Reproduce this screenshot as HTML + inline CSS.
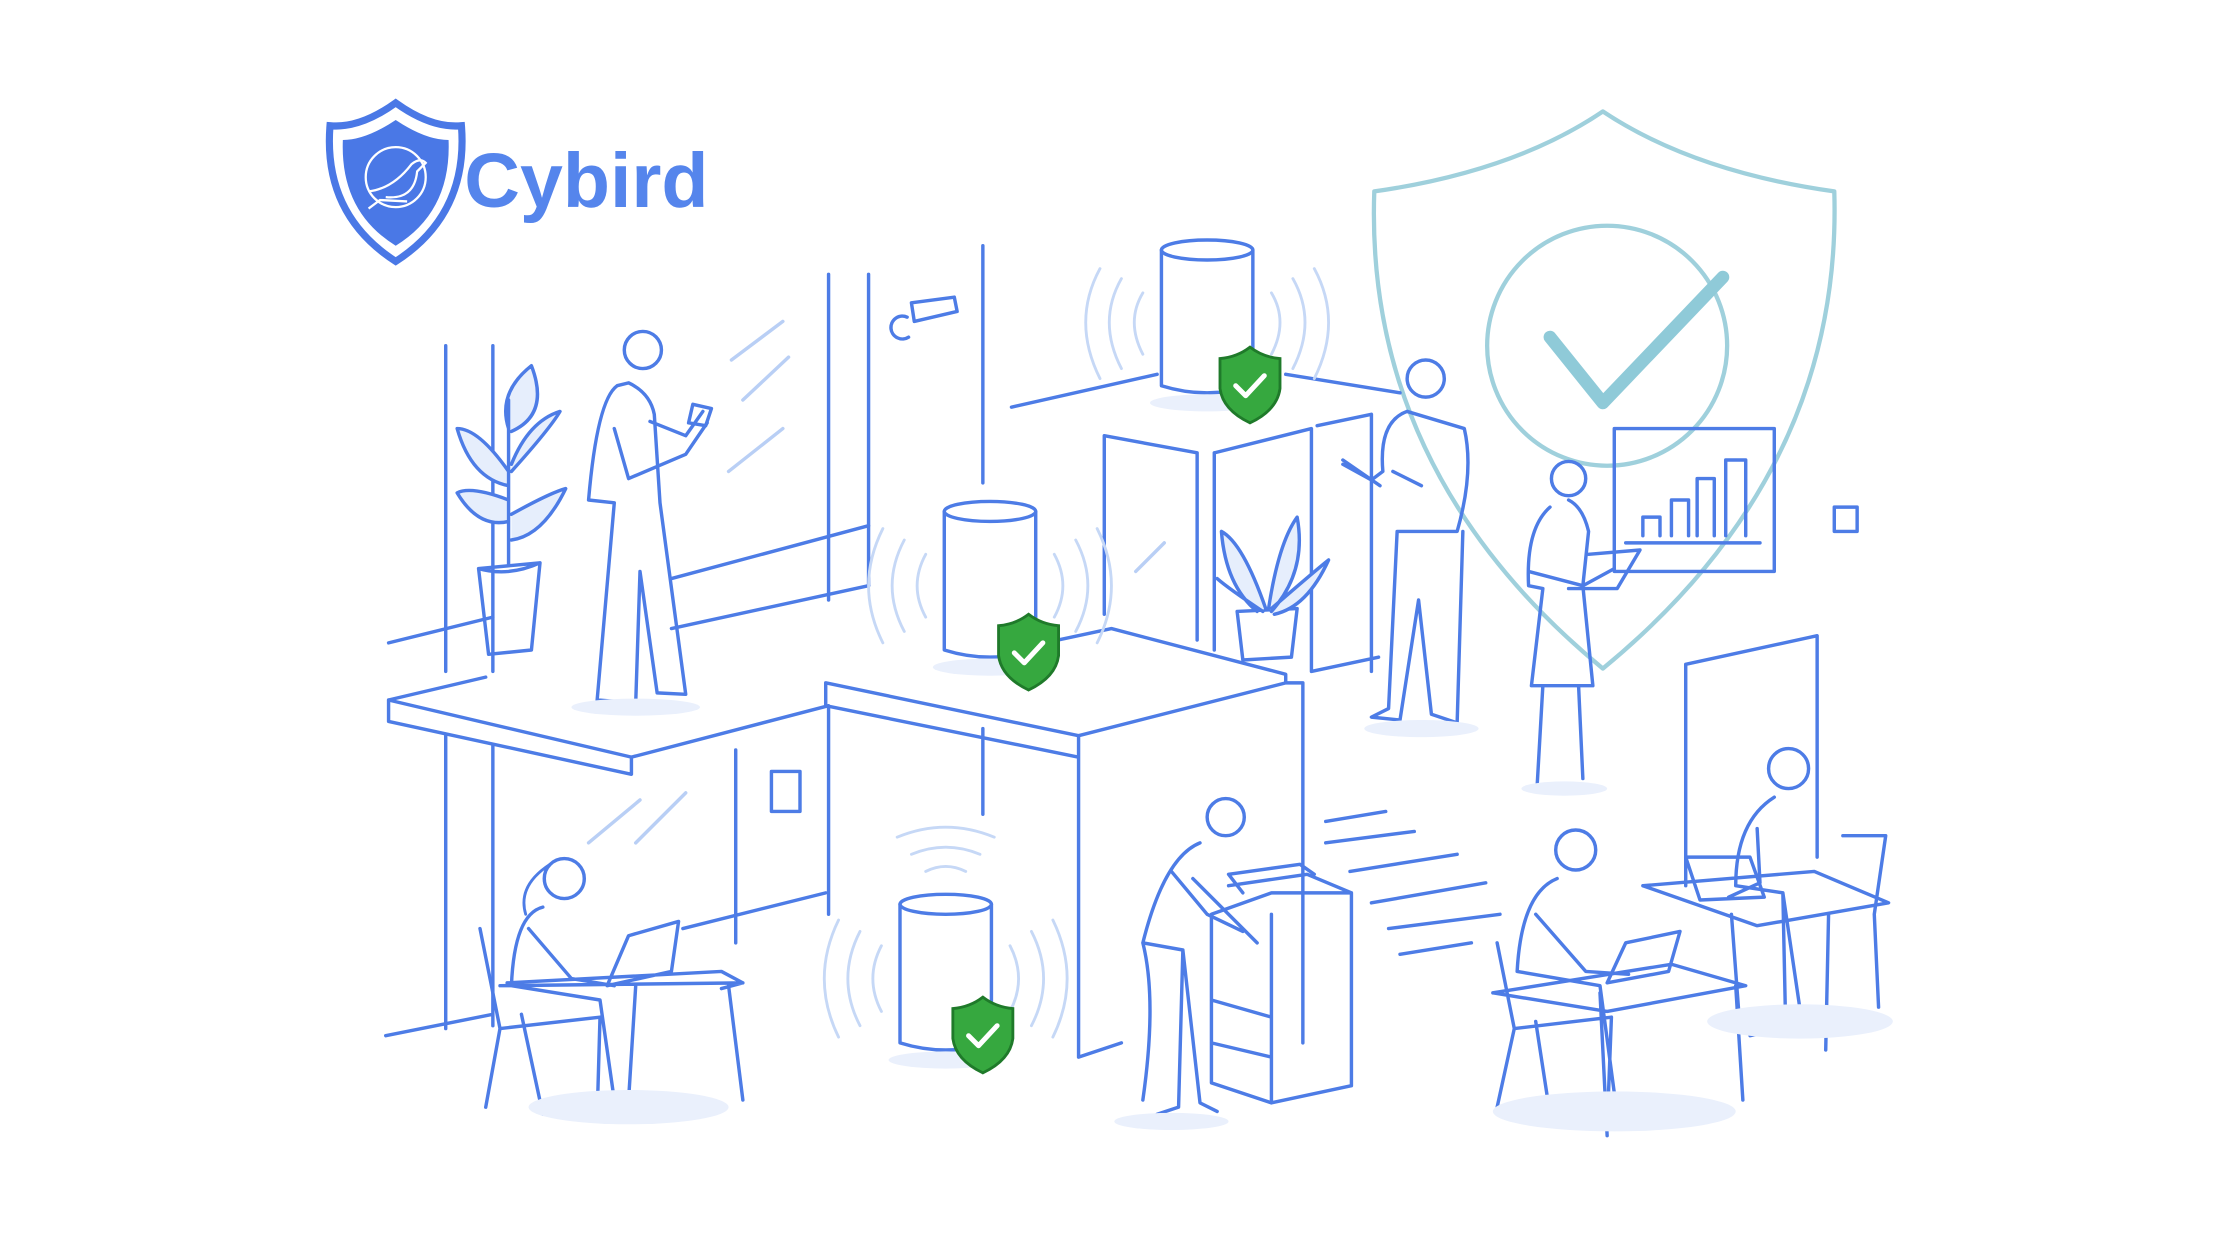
<!DOCTYPE html>
<html><head><meta charset="utf-8"><style>
html,body{margin:0;padding:0;background:#fff;width:2240px;height:1260px;overflow:hidden}
svg{display:block}
</style></head><body>
<svg width="2240" height="1260" viewBox="0 0 1568 882" xmlns="http://www.w3.org/2000/svg">
<g fill="none" stroke="#4d7ce6" stroke-width="2.4" stroke-linecap="round" stroke-linejoin="round">
<path d="M1122 78 Q1060 120 962 134 Q955 330 1122 468 Q1290 330 1284 134 Q1185 120 1122 78Z" stroke="#9fd0dc" stroke-width="3"/>
<circle cx="1125" cy="242" r="84" stroke="#9fd0dc" stroke-width="3"/>
<path d="M1085 236 L1122 282 L1206 194" stroke="#8fcad8" stroke-width="9"/>
<path d="M312 242 V470 M345 242 V470 M580 192 V420 M608 192 V410 M688 172 V338"/>
<path d="M272 450 L345 432 M470 405 L608 368 M470 440 L608 410"/>
<path d="M272 490 L272 505 L442 542 L442 530 L272 490 L340 474 M442 530 L580 494 M272 505 L272 490"/>
<path d="M578 478 L755 515 L900 478 L900 472 L778 440 L722 452 M578 478 L578 494 L755 530 L755 740 M755 515 L755 530 M900 478 L912 478 L912 730 M755 740 L785 730"/>
<path d="M312 515 V720 M345 522 V718 M270 725 L345 710 M515 525 V660 M580 495 V640 M688 510 V570 M478 650 L578 625"/>
<path d="M708 285 L810 262 M900 262 L980 275"/>
<path d="M773 305 L838 317 V448 M773 305 V430 M850 317 L918 300 V470 M850 317 V455 M922 298 L960 290 V470 M918 470 L965 460"/>
<path d="M1180 465 L1272 445 V600 M1180 465 V620"/>
<path d="M928 575 L970 568 M928 590 L990 582 M945 610 L1020 598 M960 632 L1040 618 M972 650 L1050 640 M980 668 L1030 660"/>
<path d="M540 540 L560 540 L560 568 L540 568Z M1284 355 L1300 355 L1300 372 L1284 372Z"/>
<path d="M638 212 L668 208 L670 218 L640 225Z M635 222 A8 8 0 1 0 636 236"/>
<path d="M512 252 L548 225 M520 280 L552 250 M510 330 L548 300 M412 590 L448 560 M445 590 L480 555 M795 400 L815 380" stroke="#b9cff5"/>
<path d="M335 398 L378 394 L372 455 L342 458Z M335 398 Q356 404 378 394"/>
<path d="M356 396 V280 M356 330 Q335 300 320 300 Q330 335 356 340 M356 350 Q330 340 320 345 Q335 370 356 365 M358 330 Q385 300 392 288 Q370 295 358 325 M358 360 Q385 345 396 342 Q380 375 358 378 M356 300 Q348 275 372 256 Q385 290 358 302" fill="#e6eefc"/>
<path d="M866 428 L908 426 L904 460 L870 462Z"/>
<path d="M886 426 Q870 380 855 372 Q858 410 880 428 M888 426 Q895 380 908 362 Q915 400 890 428 M890 426 Q920 400 930 392 Q915 425 892 430 M884 428 Q860 412 852 405" fill="#e6eefc"/>
<circle cx="450" cy="245" r="13"/>
<path d="M432 270 Q418 280 412 350 L430 352 L418 490 L445 492 L448 400 L460 485 L480 486 L462 352 L458 290 Q455 275 440 268Z M430 300 L440 335 L480 318 L495 296 M455 295 L480 305 L492 288"/>
<path d="M485 283 L498 286 L494 298 L482 296Z"/>
<ellipse cx="445" cy="495" rx="45" ry="6" stroke="none" fill="#eaf0fc"/>
<circle cx="998" cy="265" r="13"/>
<path d="M985 288 Q965 295 968 330 L960 336 L940 325 M985 288 L1025 300 Q1032 330 1020 372 L978 372 L972 496 L960 502 L980 504 L993 420 L1002 500 L1020 506 L1024 372 M975 330 L995 340 M940 322 L966 340"/>
<ellipse cx="995" cy="510" rx="40" ry="6" stroke="none" fill="#eaf0fc"/>
<circle cx="1098" cy="335" r="12"/>
<path d="M1085 355 Q1068 370 1070 410 L1080 412 L1072 480 L1115 480 L1108 410 L1112 372 Q1108 355 1098 350 M1070 400 L1108 410 L1130 398 M1080 480 L1076 550 M1105 480 L1108 545 M1112 388 L1148 385 L1132 412 L1098 412"/>
<ellipse cx="1095" cy="552" rx="30" ry="5" stroke="none" fill="#eaf0fc"/>
<path d="M1130 300 L1242 300 L1242 400 L1130 400Z M1138 380 L1232 380 M1150 375 V362 H1162 V375 M1170 375 V350 H1182 V375 M1188 375 V335 H1200 V375 M1208 375 V322 H1222 V375"/>
<circle cx="395" cy="615" r="14"/>
<path d="M380 635 Q360 640 358 690 L420 700 L430 770 L455 780 M370 650 L400 685 L430 690 M336 650 L350 720 L340 775 M350 720 L420 712 L418 782 M365 710 L380 780 M350 690 L520 688 M355 688 L505 680 L520 688 L505 692 M445 690 L440 770 M510 690 L520 770 M425 690 L470 680 L475 645 L440 655Z"/>
<path d="M385 605 Q362 620 368 640" stroke-width="2"/>
<ellipse cx="440" cy="775" rx="70" ry="12" stroke="none" fill="#eaf0fc"/>
<circle cx="858" cy="572" r="13"/>
<path d="M840 590 Q815 600 800 660 L828 665 L825 775 L810 780 M828 665 L840 772 L852 778 M820 610 L845 640 L870 652 M835 615 L880 660 M800 660 Q810 700 800 770"/>
<path d="M860 620 L915 612 L946 625 L946 760 L890 772 L848 758 L848 640 L890 625 L946 625 M890 640 V772 M848 700 L890 712 M848 730 L890 740 M870 625 L860 612 L910 605 L920 612"/>
<ellipse cx="820" cy="785" rx="40" ry="6" stroke="none" fill="#eaf0fc"/>
<circle cx="1103" cy="595" r="14"/>
<path d="M1090 615 Q1065 625 1062 680 L1120 690 L1130 765 L1170 775 M1075 640 L1110 680 L1140 682 M1048 660 L1060 720 L1048 775 M1060 720 L1128 712 L1125 790 M1075 715 L1085 780 M1045 695 L1170 675 L1222 690 L1125 708 L1045 695 M1120 695 L1125 795 M1215 690 L1220 770 M1125 688 L1168 680 L1176 652 L1138 660Z"/>
<ellipse cx="1130" cy="778" rx="85" ry="14" stroke="none" fill="#eaf0fc"/>
<circle cx="1252" cy="538" r="14"/>
<path d="M1242 558 Q1215 575 1215 620 L1248 625 L1250 720 L1225 725 M1248 625 L1262 720 L1280 722 M1230 580 L1232 618 L1210 628 M1290 585 L1320 585 L1312 640 L1315 705 M1150 620 L1270 610 L1322 632 L1230 648 L1150 620 M1280 640 L1278 735 M1212 640 L1218 720 M1180 600 L1225 600 L1235 628 L1190 630Z"/>
<ellipse cx="1260" cy="715" rx="65" ry="12" stroke="none" fill="#eaf0fc"/>
<ellipse cx="845" cy="175" rx="32" ry="7"/>
<path d="M813 175 V270 Q845 280 877 270 V175"/>
<ellipse cx="845" cy="282" rx="40" ry="6" stroke="none" fill="#eaf0fc"/>
<ellipse cx="693" cy="358" rx="32" ry="7"/>
<path d="M661 358 V455 Q693 465 725 455 V358"/>
<ellipse cx="693" cy="467" rx="40" ry="6" stroke="none" fill="#eaf0fc"/>
<ellipse cx="662" cy="633" rx="32" ry="7"/>
<path d="M630 633 V730 Q662 740 694 730 V633"/>
<ellipse cx="662" cy="742" rx="40" ry="6" stroke="none" fill="#eaf0fc"/>
<g stroke="#c6d8f6" stroke-width="2">
<path d="M800 205 Q788 225 800 248 M785 195 Q768 225 785 258 M770 188 Q750 225 770 265 M890 205 Q902 225 890 248 M905 195 Q922 225 905 258 M920 188 Q940 225 920 265"/>
<path d="M648 388 Q636 410 648 432 M633 378 Q616 410 633 442 M618 370 Q598 410 618 450 M738 388 Q750 410 738 432 M753 378 Q770 410 753 442 M768 370 Q788 410 768 450"/>
<path d="M617 662 Q605 685 617 708 M602 652 Q585 685 602 718 M587 644 Q567 685 587 726 M707 662 Q719 685 707 708 M722 652 Q739 685 722 718 M737 644 Q757 685 737 726"/>
<path d="M648 610 Q662 603 676 610 M638 598 Q662 588 686 598 M628 586 Q662 572 696 586"/>
</g>
</g>
<g stroke="#1f7a2a" stroke-width="2">
<path d="M875 243 Q866 250 854 251 L854 272 Q856 287 875 296 Q894 287 896 272 L896 251 Q884 250 875 243Z" fill="#36a83f"/>
<path d="M720 430 Q711 437 699 438 L699 459 Q701 474 720 483 Q739 474 741 459 L741 438 Q729 437 720 430Z" fill="#36a83f"/>
<path d="M688 698 Q679 705 667 706 L667 727 Q669 742 688 751 Q707 742 709 727 L709 706 Q697 705 688 698Z" fill="#36a83f"/>
</g>
<g fill="none" stroke="#fff" stroke-width="3.5" stroke-linecap="round" stroke-linejoin="round">
<path d="M865 270 L872 277 L885 263"/><path d="M710 457 L717 464 L730 450"/><path d="M678 725 L685 732 L698 718"/>
</g>
<path d="M277 72 Q252 90 231 88 Q226 150 277 183 Q328 150 323 88 Q302 90 277 72Z" fill="#fff" stroke="#4a78e6" stroke-width="5"/>
<path d="M277 84 Q256 98 240 98 Q238 148 277 172 Q316 148 314 98 Q298 98 277 84Z" fill="#4a78e6"/>
<circle cx="277" cy="124" r="21" fill="none" stroke="#fff" stroke-width="1.6"/>
<path d="M258 134 Q275 132 288 115 Q294 110 298 114 L292 120 Q290 140 270 138 M258 146 L266 140 L285 141" fill="none" stroke="#fff" stroke-width="1.6"/>
<text x="325" y="145" font-family="Liberation Sans, sans-serif" font-weight="bold" font-size="54" fill="#5585ec">Cybird</text>
</svg>
</body></html>
